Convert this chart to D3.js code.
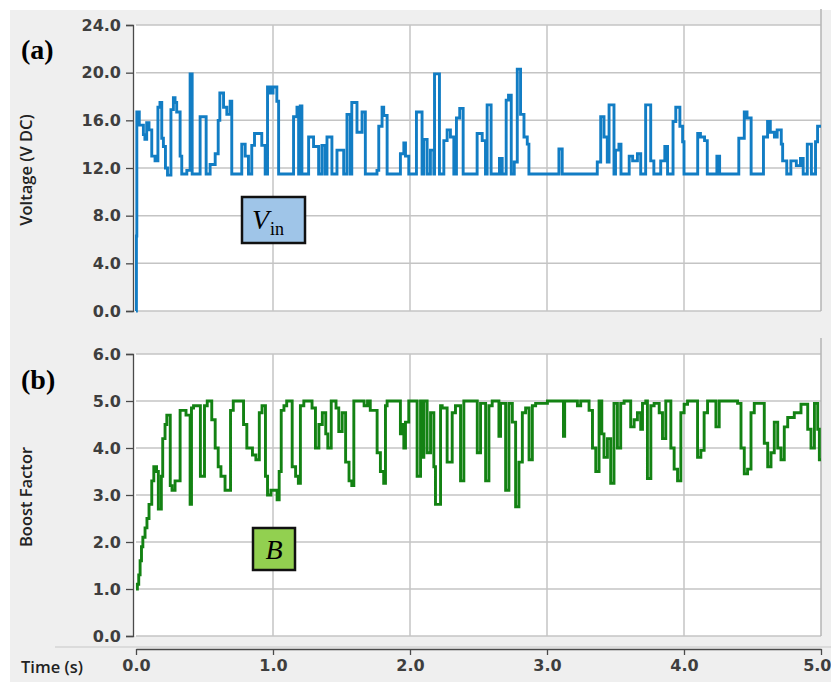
<!DOCTYPE html>
<html>
<head>
<meta charset="utf-8">
<script src="https://cdn.jsdelivr.net/npm/d3@7"></script>
<style>
  body { margin: 0; background: #fff; }
  svg { display: block; }
</style>
</head>
<body>
<div id="chart"></div>
<script>
// ---- data (step breakpoints) ----
const timeTicks = [0, 1, 2, 3, 4, 5];
const vinTicks = [0, 4, 8, 12, 16, 20, 24];
const boostTicks = [0, 1, 2, 3, 4, 5, 6];

const timeVin = [0.000, 0.003, 0.006, 0.024, 0.054, 0.065, 0.078, 0.095, 0.115, 0.139, 0.160, 0.175, 0.188, 0.200, 0.215, 0.230,
  0.255, 0.273, 0.285, 0.297, 0.322, 0.334, 0.371, 0.395, 0.410, 0.468, 0.512, 0.541, 0.578, 0.600, 0.612, 0.639,
  0.663, 0.687, 0.699, 0.772, 0.797, 0.821, 0.845, 0.865, 0.918, 0.943, 0.960, 0.980, 1.000, 1.028, 1.041, 1.150,
  1.175, 1.187, 1.199, 1.211, 1.260, 1.296, 1.333, 1.357, 1.380, 1.394, 1.430, 1.467, 1.516, 1.540, 1.564, 1.575,
  1.613, 1.650, 1.674, 1.759, 1.772, 1.796, 1.808, 1.833, 1.930, 1.955, 1.967, 1.991, 2.047, 2.088, 2.100, 2.125,
  2.149, 2.174, 2.179, 2.215, 2.247, 2.271, 2.295, 2.320, 2.339, 2.363, 2.388, 2.490, 2.527, 2.551, 2.563, 2.592,
  2.653, 2.673, 2.702, 2.719, 2.739, 2.761, 2.783, 2.807, 2.832, 2.856, 2.868, 3.087, 3.111, 3.367, 3.392, 3.416,
  3.440, 3.453, 3.489, 3.500, 3.525, 3.540, 3.600, 3.625, 3.660, 3.684, 3.720, 3.757, 3.780, 3.830, 3.860, 3.880,
  3.920, 3.940, 3.970, 3.990, 4.000, 4.100, 4.120, 4.150, 4.170, 4.240, 4.260, 4.400, 4.440, 4.460, 4.490, 4.580,
  4.610, 4.630, 4.660, 4.680, 4.710, 4.720, 4.750, 4.780, 4.820, 4.850, 4.870, 4.900, 4.930, 4.960, 4.975, 5.000];
const vin = [0, 6.3, 16.7, 15.6, 14.8, 14.4, 15.8, 15.2, 13.0, 12.6, 17.1, 17.5, 14.5, 13.8, 12.0, 11.4,
  16.9, 17.9, 17.5, 16.7, 13.0, 11.5, 11.8, 19.9, 11.5, 16.3, 11.5, 12.3, 13.2, 16.0, 18.3, 17.1,
  16.5, 17.6, 11.5, 14.0, 13.0, 11.5, 13.9, 14.9, 13.9, 11.5, 18.8, 18.3, 18.8, 17.6, 11.5, 16.3,
  17.1, 11.5, 17.2, 11.5, 14.6, 13.8, 11.5, 13.9, 11.5, 14.6, 11.5, 13.5, 11.5, 16.5, 11.5, 17.5,
  15.0, 16.7, 11.5, 11.8, 15.5, 17.1, 16.4, 11.5, 13.2, 14.1, 13.0, 11.5, 16.7, 11.5, 14.4, 11.5,
  13.5, 11.5, 19.9, 11.5, 14.3, 15.2, 14.6, 11.5, 16.2, 17.0, 11.5, 14.9, 14.3, 11.5, 17.3, 11.5,
  12.8, 11.5, 17.7, 18.1, 11.5, 12.5, 20.3, 16.5, 14.6, 14.0, 11.5, 13.6, 11.5, 12.5, 16.3, 14.6,
  12.5, 17.3, 11.5, 13.5, 14.0, 11.5, 13.0, 12.6, 13.2, 11.5, 17.3, 12.6, 11.5, 12.6, 13.8, 11.5,
  15.9, 17.1, 15.5, 14.2, 11.5, 14.9, 14.6, 14.3, 11.5, 13.0, 11.5, 14.5, 16.7, 16.2, 11.5, 14.6,
  15.9, 15.0, 14.6, 15.2, 14.0, 12.6, 11.5, 12.6, 12.2, 12.8, 11.5, 14.0, 11.5, 14.2, 15.5, 15.5];

const timeB = [0.000, 0.010, 0.020, 0.030, 0.040, 0.050, 0.066, 0.080, 0.095, 0.115, 0.130, 0.150, 0.163, 0.185, 0.195, 0.212,
  0.225, 0.250, 0.263, 0.285, 0.322, 0.365, 0.395, 0.405, 0.420, 0.470, 0.500, 0.520, 0.553, 0.578, 0.600, 0.620,
  0.650, 0.690, 0.710, 0.785, 0.809, 0.850, 0.875, 0.900, 0.920, 0.945, 0.960, 0.985, 1.030, 1.045, 1.060, 1.080,
  1.100, 1.140, 1.165, 1.185, 1.200, 1.225, 1.285, 1.310, 1.335, 1.360, 1.385, 1.400, 1.425, 1.460, 1.480, 1.505,
  1.530, 1.555, 1.575, 1.590, 1.665, 1.690, 1.710, 1.760, 1.784, 1.808, 1.821, 1.833, 1.930, 1.943, 1.955, 1.967,
  1.991, 2.052, 2.077, 2.089, 2.101, 2.125, 2.150, 2.174, 2.186, 2.223, 2.235, 2.271, 2.308, 2.332, 2.369, 2.393,
  2.491, 2.515, 2.552, 2.576, 2.600, 2.649, 2.661, 2.698, 2.722, 2.747, 2.771, 2.795, 2.820, 2.844, 2.869, 2.893,
  2.917, 3.003, 3.120, 3.129, 3.222, 3.246, 3.307, 3.332, 3.356, 3.380, 3.400, 3.416, 3.441, 3.465, 3.489, 3.514,
  3.538, 3.563, 3.611, 3.636, 3.660, 3.684, 3.697, 3.721, 3.733, 3.758, 3.782, 3.819, 3.843, 3.867, 3.904, 3.928,
  3.953, 3.977, 4.001, 4.026, 4.099, 4.123, 4.147, 4.172, 4.233, 4.257, 4.391, 4.416, 4.440, 4.464, 4.489, 4.513,
  4.586, 4.611, 4.635, 4.659, 4.684, 4.708, 4.732, 4.757, 4.805, 4.854, 4.903, 4.927, 4.952, 4.976, 4.988, 5.000];
const boost = [1.0, 1.1, 1.3, 1.6, 1.9, 2.1, 2.3, 2.5, 2.8, 3.3, 3.6, 3.5, 2.7, 3.4, 4.2, 4.5,
  4.7, 3.2, 3.1, 3.3, 4.8, 4.7, 2.8, 4.85, 4.9, 3.4, 4.9, 5.0, 4.6, 4.0, 3.6, 3.4,
  3.1, 4.8, 5.0, 4.5, 4.0, 3.85, 3.75, 4.75, 4.9, 3.4, 3.0, 3.1, 2.9, 3.5, 4.8, 4.9,
  5.0, 3.6, 3.4, 3.25, 4.9, 5.0, 4.85, 4.0, 4.5, 4.75, 4.3, 4.0, 5.0, 4.85, 4.35, 4.75,
  3.7, 3.3, 3.2, 5.0, 4.9, 5.0, 4.8, 3.9, 3.5, 3.25, 4.9, 5.0, 4.3, 4.5, 4.0, 4.55,
  5.0, 3.4, 5.0, 3.8, 5.0, 3.9, 4.75, 3.6, 2.8, 4.9, 4.85, 3.7, 4.75, 4.9, 3.3, 5.0,
  3.9, 4.95, 3.3, 4.9, 5.0, 4.25, 4.95, 3.1, 4.95, 4.55, 2.75, 3.7, 4.75, 4.85, 3.75, 4.9,
  4.95, 5.0, 4.25, 5.0, 4.9, 5.0, 4.8, 4.0, 3.5, 5.0, 4.3, 3.8, 4.2, 3.25, 4.95, 4.0,
  4.95, 5.0, 4.45, 4.6, 4.75, 4.4, 4.95, 5.0, 3.35, 4.9, 4.95, 4.75, 4.2, 5.0, 4.0, 3.55,
  3.3, 4.75, 4.93, 5.0, 3.8, 3.95, 4.75, 5.0, 4.45, 5.0, 4.95, 4.0, 3.45, 3.55, 4.75, 4.95,
  4.1, 3.6, 3.9, 4.55, 4.0, 3.75, 4.45, 4.65, 4.75, 4.93, 4.4, 4.0, 4.95, 4.4, 3.75, 3.75];

// ---- layout ----
const W = 831, H = 682;
const svg = d3.select("#chart").append("svg")
  .attr("width", W).attr("height", H)
  .attr("viewBox", [0, 0, W, H]);

svg.append("rect").attr("x", 10).attr("y", 10).attr("width", W - 10).attr("height", H - 10).attr("fill", "#efefef");

const x = d3.scaleLinear().domain([0, 5]).range([136, 821]);
const yV = d3.scaleLinear().domain([0, 24]).range([311, 25]);
const yB = d3.scaleLinear().domain([0, 6]).range([636, 354]);

const gridColor = "#c4c4c4";
const axisColor = "#4a4a4a";
const tickFont = "DejaVu Sans";

function styleTicks(sel) {
  // override the defaults d3 puts on the axis group
  sel.attr("font-size", 16).attr("font-family", tickFont).attr("font-weight", "bold");
  sel.selectAll(".tick text")
    .attr("font-size", 16)
    .attr("font-family", tickFont)
    .attr("font-weight", "bold")
    .attr("fill", "#3e3e3e");
  sel.selectAll("path,line").attr("stroke", axisColor).attr("stroke-width", 1.3);
}

function panel(y, ticks, times, values, color) {
  const [y0, y1] = y.range();
  const g = svg.append("g");

  g.append("rect")
    .attr("x", x(0) - 2).attr("y", y1)
    .attr("width", x(5) - x(0) + 2).attr("height", y0 - y1)
    .attr("fill", "#fff");

  // horizontal grid
  g.append("g").selectAll("line").data(ticks).join("line")
    .attr("x1", x(0)).attr("x2", x(5))
    .attr("y1", d => y(d)).attr("y2", d => y(d))
    .attr("stroke", gridColor).attr("stroke-width", 1.5);

  // vertical grid (right border reaches a bit above the plot)
  g.append("g").selectAll("line").data(timeTicks.slice(1)).join("line")
    .attr("x1", d => x(d)).attr("x2", d => x(d))
    .attr("y1", d => d === 5 ? y1 - 16 : y1).attr("y2", y0)
    .attr("stroke", d => d === 5 ? "#b4b4b4" : gridColor).attr("stroke-width", 1.5);

  const line = d3.line()
    .curve(d3.curveStepAfter)
    .x((d, i) => x(times[i]))
    .y(d => y(d));

  g.append("path")
    .datum(values)
    .attr("fill", "none")
    .attr("stroke", color)
    .attr("stroke-width", 2.9)
    .attr("d", line);

  // left axis
  const ax = g.append("g")
    .attr("transform", `translate(${x(0) - 3},0)`)
    .call(d3.axisLeft(y).tickValues(ticks).tickFormat(d3.format(".1f")).tickSize(7).tickPadding(5));
  styleTicks(ax);
  return g;
}

panel(yV, vinTicks, timeVin, vin, "#127dc4");
panel(yB, boostTicks, timeB, boost, "#138213");

// time axis
svg.append("line")
  .attr("x1", 55).attr("x2", W).attr("y1", 647).attr("y2", 647)
  .attr("stroke", "#c8c8c8").attr("stroke-width", 1.2);
const tx = svg.append("g")
  .attr("transform", "translate(0,649)")
  .call(d3.axisBottom(x).tickValues(timeTicks).tickFormat(d3.format(".1f")).tickSize(6).tickSizeOuter(0).tickPadding(5));
styleTicks(tx);
// last label sits against the right edge, as in the reference
tx.selectAll(".tick text").filter(d => d === 5).attr("text-anchor", "end").attr("dx", 10);

// labels
const labelFont = "'Open Sans', 'DejaVu Sans', sans-serif";
svg.append("text")
  .attr("transform", "translate(32,170) rotate(-90)")
  .attr("text-anchor", "middle")
  .attr("font-family", labelFont).attr("font-weight", 600).attr("font-size", 16.5)
  .attr("fill", "#222").text("Voltage (V DC)");
svg.append("text")
  .attr("transform", "translate(32,497) rotate(-90)")
  .attr("text-anchor", "middle")
  .attr("font-family", labelFont).attr("font-weight", 600).attr("font-size", 16.5)
  .attr("fill", "#222").text("Boost Factor");
svg.append("text")
  .attr("x", 21).attr("y", 673)
  .attr("font-family", labelFont).attr("font-weight", 600).attr("font-size", 16.5)
  .attr("fill", "#222").text("Time (s)");

const serif = "'Liberation Serif', 'DejaVu Serif', serif";
svg.append("text").attr("x", 21).attr("y", 59)
  .attr("font-family", serif).attr("font-weight", "bold").attr("font-size", 28)
  .text("(a)");
svg.append("text").attr("x", 21).attr("y", 389)
  .attr("font-family", serif).attr("font-weight", "bold").attr("font-size", 28)
  .text("(b)");

// series tags
const vTag = svg.append("g");
vTag.append("rect").attr("x", 242).attr("y", 197).attr("width", 63).attr("height", 46)
  .attr("fill", "#9fc5e8").attr("stroke", "#111").attr("stroke-width", 2.5);
const vText = vTag.append("text").attr("x", 252).attr("y", 229)
  .attr("font-family", serif).attr("font-size", 28);
vText.append("tspan").attr("font-style", "italic").text("V");
vText.append("tspan").attr("font-size", 18).attr("dy", 6).attr("dx", 1).text("in");

const bTag = svg.append("g");
bTag.append("rect").attr("x", 253).attr("y", 528).attr("width", 42).attr("height", 42)
  .attr("fill", "#92d050").attr("stroke", "#111").attr("stroke-width", 2.5);
bTag.append("text").attr("x", 274).attr("y", 559).attr("text-anchor", "middle")
  .attr("font-family", serif).attr("font-style", "italic").attr("font-size", 28)
  .text("B");
</script>
</body>
</html>
